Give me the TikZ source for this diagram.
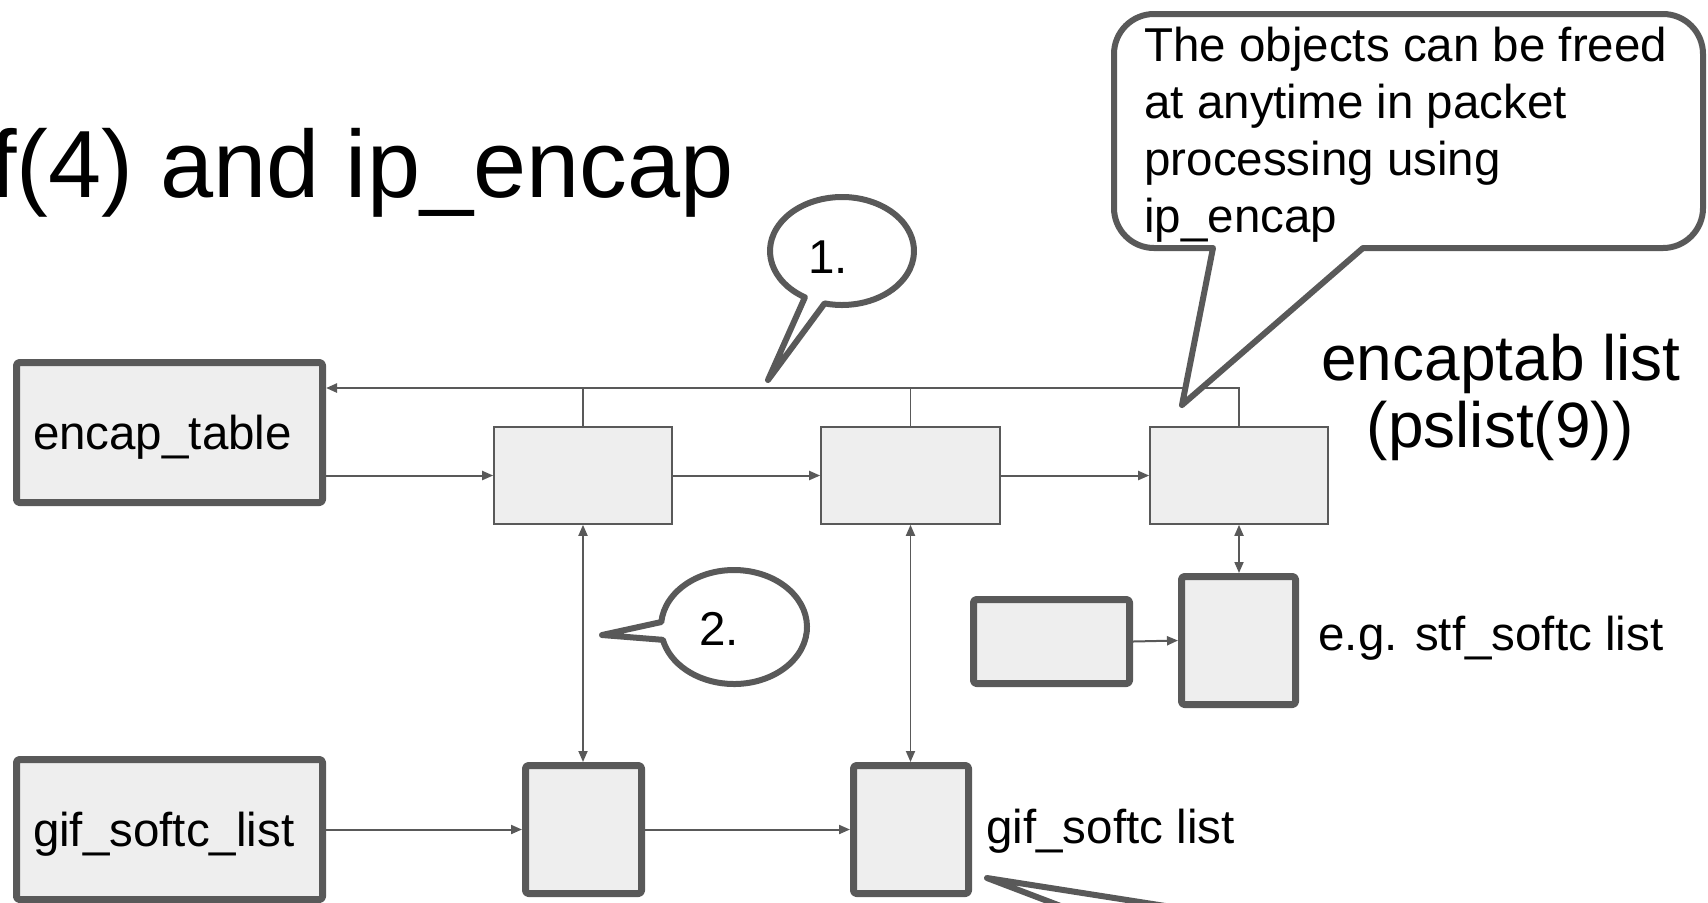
\documentclass[tikz,border=0pt]{standalone}
\usepackage{fontspec}
\setmainfont{Liberation Sans}
\usetikzlibrary{arrows.meta}
\definecolor{dg}{HTML}{595959}
\definecolor{lg}{HTML}{EEEEEE}
\begin{document}
\begin{tikzpicture}[x=0.5pt,y=-0.5pt,
 thickbox/.style={draw=dg,fill=lg,line width=3.5pt,rounded corners=1.5pt,inner sep=0pt,line join=round},
 thinbox/.style={draw=dg,fill=lg,line width=0.8pt,inner sep=0pt},
 conn/.style={draw=dg,line width=1pt,-{Triangle[length=5.5pt,width=4.5pt]}},
 dconn/.style={draw=dg,line width=0.9pt,{Triangle[length=5.5pt,width=4.5pt]}-{Triangle[length=5.5pt,width=4.5pt]}},
 bodyfont/.style={font=\fontsize{23.75pt}{28.5pt}\selectfont},
 lbl/.style={bodyfont,inner sep=0pt,anchor=base west},
 biglbl/.style={font=\fontsize{32pt}{38pt}\selectfont,inner sep=0pt,anchor=base},
 callout/.style={draw=dg,fill=white,line width=3pt,line join=round},
 namedbox/.style={thickbox,minimum width=153pt,minimum height=70pt,text width=136.5pt,inner xsep=8.25pt,text height=17pt,text depth=0pt,align=left,bodyfont},
]
\useasboundingbox (0,0) rectangle (1708,902);
\clip (0,0) rectangle (1708,902);

% title
\node[font=\fontsize{47.75pt}{57pt}\selectfont,inner sep=0pt,anchor=base west] (title) at (-10,197) {f(4) and ip\_encap};

% boxes
\node[namedbox] (encap) at (169.5,432.5) {encap\_table};
\node[namedbox] (gifl) at (169.5,829.5) {gif\_softc\_list};
\node[thinbox,minimum width=89pt,minimum height=48.5pt] (A) at (583,475.5) {};
\node[thinbox,minimum width=89.5pt,minimum height=48.5pt] (B) at (910.5,475.5) {};
\node[thinbox,minimum width=89pt,minimum height=48.5pt] (C) at (1239,475.5) {};
\node[thickbox,minimum width=58pt,minimum height=64pt] (D) at (583.5,829.5) {};
\node[thickbox,minimum width=57.5pt,minimum height=64pt] (E) at (911,829.5) {};
\node[thickbox,minimum width=57pt,minimum height=64pt] (F) at (1238.5,640.5) {};
\node[thickbox,minimum width=78pt,minimum height=42pt] (G) at (1051.5,641.5) {};

% connectors
\coordinate (bus) at (0,388);
\draw[conn,line width=1.2pt] (C.north) |- (encap.east |- bus);
\draw[dg,line width=0.8pt] (A.north) -- (A.north |- bus);
\draw[dg,line width=0.8pt] (B.north) -- (B.north |- bus);
\draw[conn] (encap.east |- A.west) -- (A.west);
\draw[conn] (A.east) -- (B.west);
\draw[conn] (B.east) -- (C.west);
\draw[dconn] (A.south) -- (A.south |- D.north);
\draw[dconn] (B.south) -- (B.south |- E.north);
\draw[dconn] (C.south) -- (C.south |- F.north);
\draw[conn] (gifl.east |- D.west) -- (D.west);
\draw[conn] (D.east) -- (E.west);
\draw[conn] (G.east) -- (F.west);

% labels
\node[biglbl] (el1) at (1501,380) {encaptab list};
\node[biglbl] (el2) at (1500,447) {(pslist(9))};
\node[lbl] (eg) at (1318,650) {e.g. stf\_softc list};
\node[lbl] (gl) at (986,843) {gif\_softc list};

% callout 1
\draw[callout] (768,380) -- ({842+72*cos(121)},{251+54*sin(121)})
  arc[start angle=121,end angle=464,x radius=72,y radius=54] -- cycle;
\node[lbl] (c1) at (808,273) {1.};

% callout 2
\draw[callout] (602,635) -- ({734+73*cos(185)},{627+57*sin(185)})
  arc[start angle=185,end angle=527,x radius=73,y radius=57] -- cycle;
\node[lbl] (c2) at (699,645) {2.};

% callout 3
\draw[callout] (1213,248) -- (1154,248)
  arc[start angle=90,end angle=180,radius=40] -- (1114,54)
  arc[start angle=180,end angle=270,radius=40] -- (1663,14)
  arc[start angle=270,end angle=360,radius=40] -- (1703,208)
  arc[start angle=0,end angle=90,radius=40] -- (1363,248) -- (1182,405) -- cycle;
\node[lbl] (t1) at (1144,61) {The objects can be freed};
\node[lbl] (t2) at (1144,118) {at anytime in packet};
\node[lbl] (t3) at (1144,175) {processing using};
\node[lbl] (t4) at (1144,232) {ip\_encap};

% partial callout tail at the bottom
\draw[callout] (1150,940) -- (987,878) -- (1382,940);
\end{tikzpicture}
\end{document}
